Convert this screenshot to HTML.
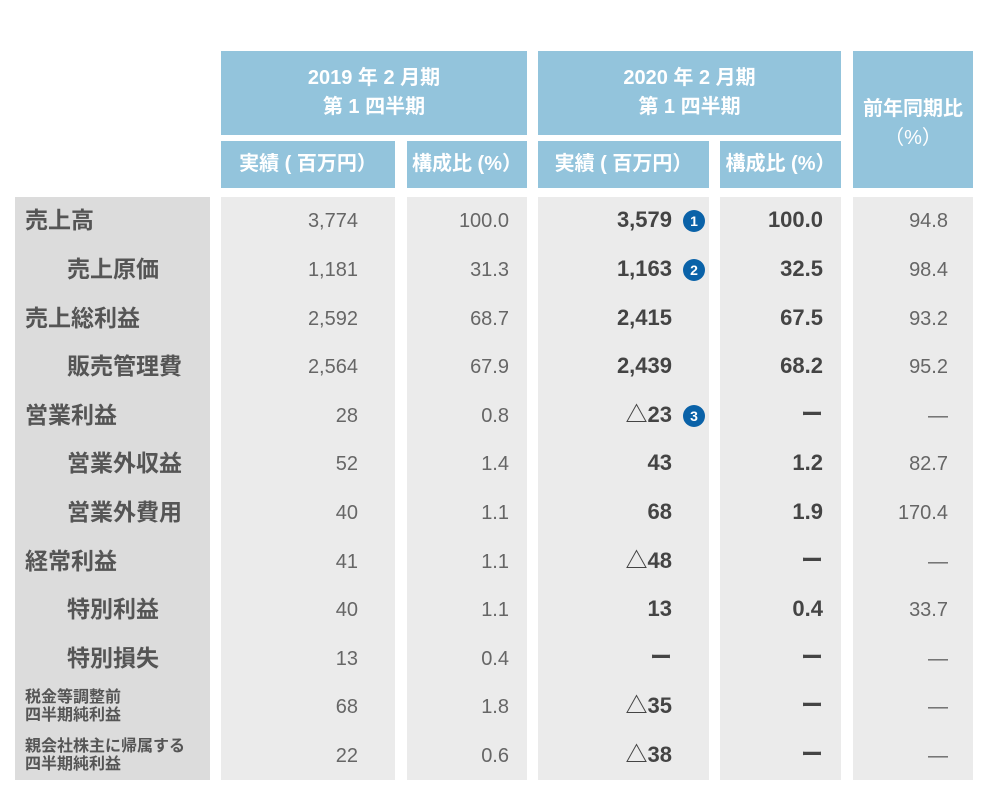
<!DOCTYPE html>
<html><head><meta charset="utf-8">
<style>
body{margin:0;width:984px;height:788px;background:#fff;position:relative;overflow:hidden;font-family:"Liberation Sans","Noto Sans CJK JP",sans-serif;color:#555}
.h{position:absolute;background:#93c4dc;color:#fff;font-weight:bold;text-align:center;display:flex;align-items:center;justify-content:center;flex-direction:column;font-size:20px;line-height:29px}
.col{position:absolute;top:197px;height:583px;background:#ebebeb}
.lab{background:#dcdcdc}
.t{position:absolute;font-size:20px;line-height:24px;white-space:nowrap;color:#666}
.l{font-size:23px;line-height:28px;font-weight:bold;color:#555}
.s{font-size:16px;line-height:18px;font-weight:bold;color:#555}
.b{font-weight:bold;font-size:22px;line-height:26px;color:#444}
.badge{position:absolute;width:22px;height:22px;border-radius:50%;background:#0a62a8;color:#fff;font-size:14px;font-weight:bold;text-align:center;line-height:22px}
</style></head><body>
<div class="h" style="left:221px;top:51px;width:306px;height:84px"><div>2019 年 2 月期</div><div>第 1 四半期</div></div>
<div class="h" style="left:538px;top:51px;width:303px;height:84px"><div>2020 年 2 月期</div><div>第 1 四半期</div></div>
<div class="h" style="left:853px;top:51px;width:120px;height:137px;justify-content:flex-start"><div style="margin-top:44px">前年同期比</div><div style="font-weight:normal">（%）</div></div>
<div class="h" style="left:221px;top:141px;width:174px;height:47px">実績 ( 百万円）</div>
<div class="h" style="left:407px;top:141px;width:120px;height:47px">構成比 (%）</div>
<div class="h" style="left:538px;top:141px;width:171px;height:47px">実績 ( 百万円）</div>
<div class="h" style="left:720px;top:141px;width:121px;height:47px">構成比 (%）</div>
<div class="col lab" style="left:15px;width:195px"></div>
<div class="col" style="left:221px;width:174px"></div>
<div class="col" style="left:407px;width:120px"></div>
<div class="col" style="left:538px;width:171px"></div>
<div class="col" style="left:720px;width:121px"></div>
<div class="col" style="left:853px;width:120px"></div>
<div id="rows"></div>
<script>
const labels=["売上高","売上原価","売上総利益","販売管理費","営業利益","営業外収益","営業外費用","経常利益","特別利益","特別損失","税金等調整前<br>四半期純利益","親会社株主に帰属する<br>四半期純利益"];
const indent=[0,1,0,1,0,1,1,0,1,1,0,0];
const amt2019=["3,774","1,181","2,592","2,564","28","52","40","41","40","13","68","22"];
const ratio2019=["100.0","31.3","68.7","67.9","0.8","1.4","1.1","1.1","1.1","0.4","1.8","0.6"];
const amt2020=["3,579","1,163","2,415","2,439","△23","43","68","△48","13","ー","△35","△38"];
const ratio2020=["100.0","32.5","67.5","68.2","ー","1.2","1.9","ー","0.4","ー","ー","ー"];
const yoy=["94.8","98.4","93.2","95.2","—","82.7","170.4","—","33.7","—","—","—"];
const badges=["1","2","","","3","","","","","","",""];
const root=document.getElementById('rows');
const top0=197,rh=48.6;
function add(cls,html,css,name){const d=document.createElement('div');d.className='t '+cls;d.innerHTML=html;d.style.cssText=css;


root.appendChild(d);return d;}
labels.forEach((lb,i)=>{
 const cy=top0+rh*i+rh/2;
 const small=lb.includes('<br>');
 if(small) add('s',lb,`left:25px;top:${cy-18}px`,'row-label');
 else add('l',lb,`left:${indent[i]?67:25}px;top:${cy-15}px`,'row-label');
 add('',amt2019[i],`right:${984-358}px;top:${cy-12}px`,'value-2019-amount');
 add('',ratio2019[i],`right:${984-509}px;top:${cy-12}px`,'value-2019-ratio');
 add('b',amt2020[i],`right:${984-672}px;top:${cy-14}px`,'value-2020-amount');
 add('b',ratio2020[i],`right:${984-823}px;top:${cy-14}px`,'value-2020-ratio');
 add('',yoy[i],`right:${984-948}px;top:${cy-12}px`,'value-yoy');
 if(badges[i]){const b=document.createElement('div');b.className='badge';b.textContent=badges[i];b.style.left='683px';b.style.top=(cy-11)+'px';
 
 
 root.appendChild(b);}
});
</script>
</body></html>
